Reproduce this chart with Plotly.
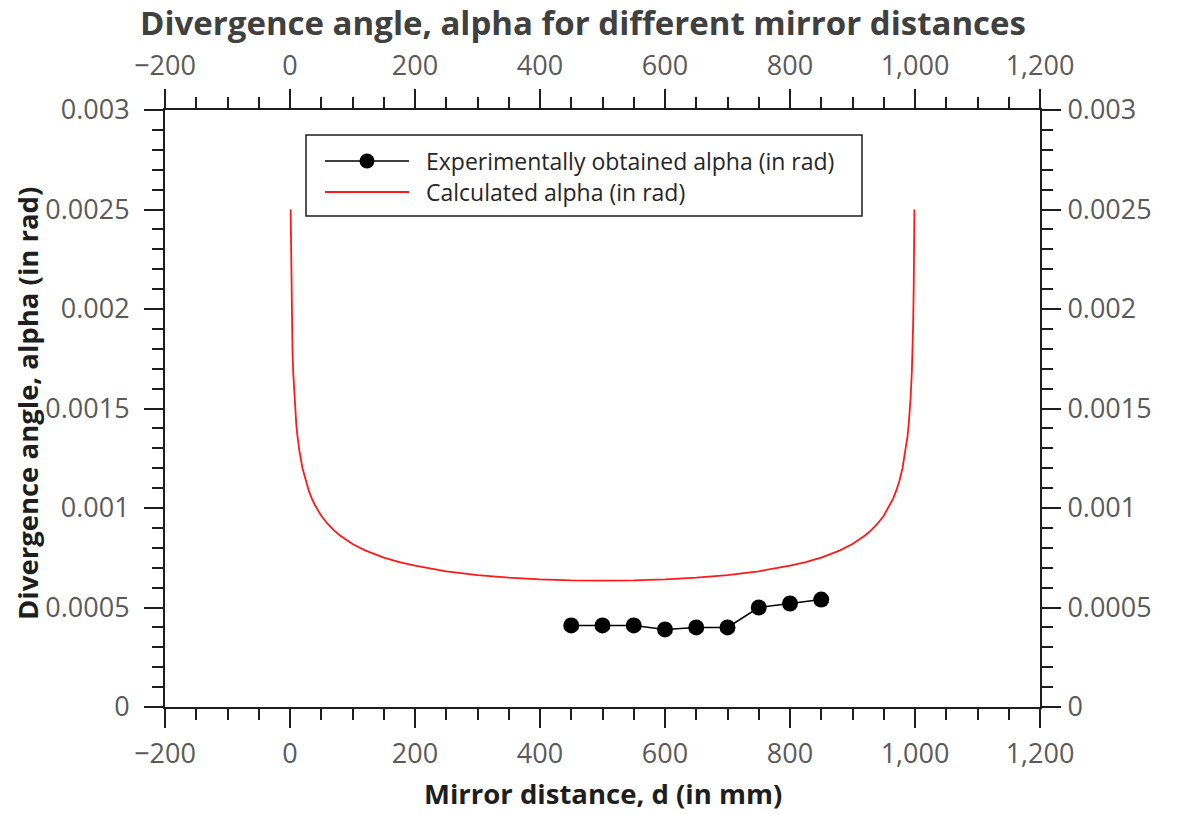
import plotly.graph_objects as go

# ---- data -------------------------------------------------------------
# Measured divergence angle at each mirror distance
mirror_distance_exp = [450, 500, 550, 600, 650, 700, 750, 800, 850]
alpha_exp = [0.00041, 0.00041, 0.00041, 0.00039, 0.00040, 0.00040,
             0.00050, 0.00052, 0.00054]

# Calculated divergence angle (tabulated)
mirror_distance_calc = [1, 2, 3, 4, 5, 7, 8, 10, 12, 15, 20, 25, 30, 35, 40,
                        50, 60, 70, 80, 100, 120, 150, 175, 200, 250, 300,
                        350, 400, 450, 500, 550, 600, 650, 700, 750, 800,
                        825, 850, 880, 900, 920, 930, 940, 950, 960, 965,
                        970, 975, 980, 985, 988, 990, 992, 993, 995, 996,
                        997, 998, 999]
alpha_calc = [0.002500, 0.002123, 0.001919, 0.001786, 0.001690, 0.001554,
              0.001504, 0.001423, 0.001360, 0.001287, 0.001200, 0.001136,
              0.001087, 0.001047, 0.001014, 0.000961, 0.000921, 0.000889,
              0.000862, 0.000819, 0.000787, 0.000751, 0.000728, 0.000710,
              0.000682, 0.000663, 0.000650, 0.000641, 0.000636, 0.000635,
              0.000636, 0.000641, 0.000650, 0.000663, 0.000682, 0.000710,
              0.000728, 0.000751, 0.000787, 0.000819, 0.000862, 0.000889,
              0.000921, 0.000961, 0.001014, 0.001047, 0.001087, 0.001136,
              0.001200, 0.001287, 0.001360, 0.001423, 0.001504, 0.001554,
              0.001690, 0.001786, 0.001919, 0.002123, 0.002500]

x_tick_values = [-200, 0, 200, 400, 600, 800, 1000, 1200]
x_tick_labels = ["\u2212200", "0", "200", "400", "600", "800", "1,000", "1,200"]
y_tick_values = [0, 0.0005, 0.001, 0.0015, 0.002, 0.0025, 0.003]
y_tick_labels = ["0", "0.0005", "0.001", "0.0015", "0.002", "0.0025", "0.003"]

series_names = ["Experimentally obtained alpha (in rad)", "Calculated alpha (in rad)"]
chart_title = "Divergence angle, alpha for different mirror distances"
x_title = "Mirror distance, d (in mm)"
y_title = "Divergence angle, alpha (in rad)"

# ---- styling ----------------------------------------------------------
W, H = 1188, 814
L, R, T, B = 165, 1040, 110, 707          # plot-area edges in pixels
FONT = "Open Sans"
INK = "#1e1e1e"
TICK_GRAY = "#5a5a5a"
RED = "#ff1a1a"
X_RANGE = [-200, 1200]
Y_RANGE = [0, 0.003]


def px_x(p):
    return (p - L) / (R - L)


def px_y(p):
    return (B - p) / (B - T)


fig = go.Figure()

fig.add_trace(go.Scatter(
    x=mirror_distance_calc, y=alpha_calc, mode="lines",
    name=series_names[1], line=dict(color=RED, width=1.8),
    showlegend=False,
))
fig.add_trace(go.Scatter(
    x=mirror_distance_exp, y=alpha_exp, mode="lines+markers",
    name=series_names[0], line=dict(color="black", width=1.5),
    marker=dict(color="black", size=16),
    showlegend=False,
))
# transparent copy on the mirrored axes so the top/right scales get drawn
fig.add_trace(go.Scatter(
    x=mirror_distance_exp, y=alpha_exp, mode="markers",
    xaxis="x2", yaxis="y2", opacity=0, hoverinfo="skip",
    showlegend=False,
))

tick_font = dict(family=FONT, size=27, color=TICK_GRAY)


def axis_style(minor_dtick, minor_tick0, standoff):
    return dict(
        showline=True, linecolor=INK, linewidth=2,
        ticks="outside", ticklen=19, tickwidth=2, tickcolor=INK,
        showgrid=False, zeroline=False, tickfont=tick_font,
        ticklabelstandoff=standoff,
        minor=dict(ticks="outside", ticklen=11, tickwidth=2, tickcolor=INK,
                   showgrid=False, tick0=minor_tick0, dtick=minor_dtick),
    )


fig.update_layout(
    width=W, height=H, autosize=False,
    margin=dict(l=L, r=W - R, t=T, b=H - B),
    paper_bgcolor="white", plot_bgcolor="white",
    showlegend=False,
    xaxis=dict(range=X_RANGE, tickmode="array", tickvals=x_tick_values,
               ticktext=x_tick_labels, side="bottom",
               **axis_style(50, -200, 3)),
    xaxis2=dict(range=X_RANGE, tickmode="array", tickvals=x_tick_values,
                ticktext=x_tick_labels, side="top", overlaying="x",
                anchor="y", **axis_style(50, -200, 3)),
    yaxis=dict(range=Y_RANGE, tickmode="array", tickvals=y_tick_values,
               ticktext=y_tick_labels, side="left",
               **axis_style(0.0001, 0, 9)),
    yaxis2=dict(range=Y_RANGE, tickmode="array", tickvals=y_tick_values,
                ticktext=y_tick_labels, side="right", overlaying="y",
                anchor="x", **axis_style(0.0001, 0, 1)),
)

annotations = [
    dict(text=chart_title, xref="paper", yref="paper",
         x=px_x(583), y=px_y(22), xanchor="center", yanchor="middle",
         showarrow=False,
         font=dict(family=FONT, size=33, color="#404040", weight="bold")),
    dict(text=x_title, xref="paper", yref="paper",
         x=px_x(603), y=px_y(793), xanchor="center", yanchor="middle",
         showarrow=False,
         font=dict(family=FONT, size=27.5, color=INK, weight="bold")),
    dict(text=y_title, xref="paper", yref="paper", textangle=-90,
         x=px_x(27), y=px_y(404), xanchor="center", yanchor="middle",
         showarrow=False,
         font=dict(family=FONT, size=27.5, color=INK, weight="bold")),
]

# Legend box drawn by hand so the line samples can be long
shapes = [
    dict(type="rect", xref="paper", yref="paper",
         x0=px_x(306), x1=px_x(862), y0=px_y(216), y1=px_y(135),
         line=dict(color=INK, width=1.5), fillcolor="white", layer="above"),
    dict(type="line", xref="paper", yref="paper",
         x0=px_x(325), x1=px_x(409), y0=px_y(161), y1=px_y(161),
         line=dict(color="black", width=1.5), layer="above"),
    dict(type="circle", xref="paper", yref="paper",
         xsizemode="pixel", ysizemode="pixel",
         xanchor=px_x(367), yanchor=px_y(161),
         x0=-7.5, x1=7.5, y0=-7.5, y1=7.5,
         line=dict(color="black", width=0), fillcolor="black", layer="above"),
    dict(type="line", xref="paper", yref="paper",
         x0=px_x(325), x1=px_x(409), y0=px_y(192), y1=px_y(192),
         line=dict(color=RED, width=1.8), layer="above"),
]
for name, ypix in zip(series_names, [161, 192]):
    annotations.append(dict(
        text=name, xref="paper", yref="paper",
        x=px_x(424), y=px_y(ypix), xanchor="left", yanchor="middle",
        showarrow=False, font=dict(family=FONT, size=23, color="#262626"),
    ))

fig.update_layout(annotations=annotations, shapes=shapes)

fig.write_html("out.html")
